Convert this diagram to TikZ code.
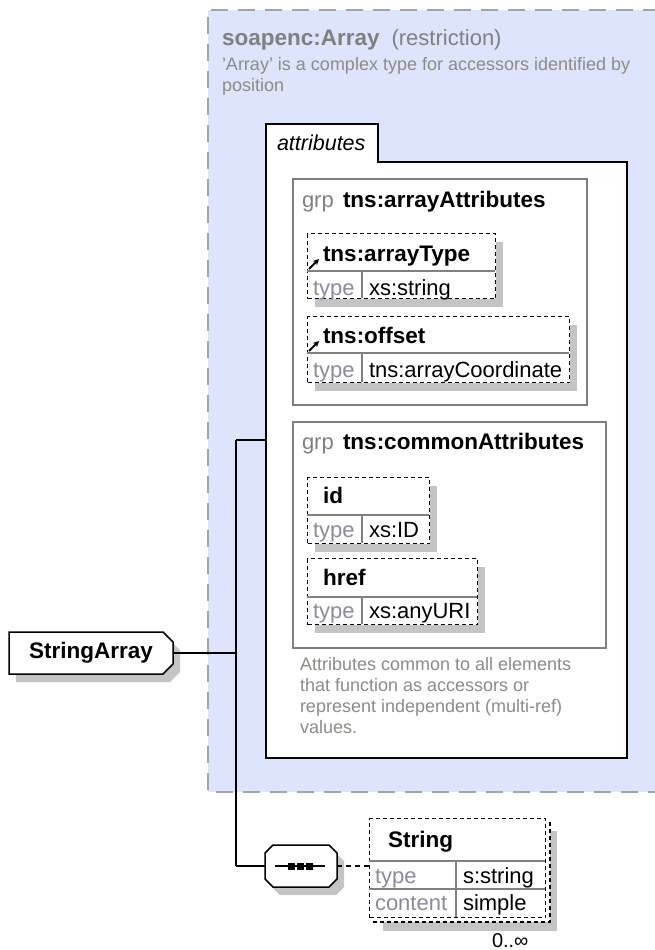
\documentclass[tikz,border=0pt]{standalone}
\usepackage{fontspec}
\setmainfont{Liberation Sans}
\usetikzlibrary{shadows,arrows.meta}
\definecolor{cblue}{HTML}{DDE4FC}
\definecolor{cgrey}{HTML}{808080}
\definecolor{cnote}{HTML}{8E8A86}
\definecolor{clabel}{HTML}{8A8AA0}
\definecolor{cshadow}{HTML}{C4C4C4}
\definecolor{cdash}{HTML}{A4A4A4}
\newcommand\myfs{\fontsize{18}{21}\selectfont}
\newcommand\myfm{\fontsize{22}{26}\selectfont}
\newcommand\myfb{\fontsize{22.5}{26}\selectfont\bfseries}
\tikzset{
  txt/.style={inner sep=0pt, outer sep=0pt, anchor=base west},
  conn/.style={black, line width=1.5pt},
  grpbox/.style={draw=cgrey, line width=1.5pt, inner sep=0pt, anchor=north west},
  abox/.style={draw=black, line width=1.3pt, dash pattern=on 4pt off 3pt, fill=white,
    inner sep=0pt, anchor=north west,
    drop shadow={shadow xshift=7pt, shadow yshift=-8pt, fill=cshadow, opacity=1}},
  sepline/.style={draw=cgrey, line width=1.2pt},
  lbl/.style={txt, text=clabel, font=\myfm},
  val/.style={txt, text=black, font=\myfm},
  hdr/.style={txt, text=black, font=\myfb},
  arrowicon/.style={line width=1.8pt, -{Stealth[length=6pt,width=6pt]}},
}
\begin{document}
\begin{tikzpicture}[x=1pt,y=-1pt]
\useasboundingbox (0,0) rectangle (654,950);
\fill[white] (0,0) rectangle (654,950);

% restriction container
\node[fill=cblue, inner sep=0pt, minimum width=452pt, minimum height=782pt, anchor=north west] (restr) at (208,10) {};
\draw[cdash, line width=2pt, dash pattern=on 17pt off 10pt] (660,10) -- (208,10) -- (208,792) -- (660,792);
\node[txt, text=cgrey] (ttl) at (222,46) {\myfb soapenc:Array\hspace{12pt}\myfm\mdseries(restriction)};
\node[txt, text=cnote, align=left, font=\myfs] (desc) at (222,92) {'Array' is a complex type for accessors identified by\\position};

% attributes box
\draw[black, line width=2pt, fill=white] (266,124) -- (378,124) -- (378,162) -- (627,162) -- (627,758) -- (266,758) -- cycle;
\node[inner sep=0pt, minimum width=361pt, minimum height=596pt, anchor=north west] (attrs) at (266,162) {};
\node[txt, font=\fontsize{21.5}{25}\selectfont\itshape] (attrlbl) at (277,150) {attributes};

% group 1
\node[grpbox, minimum width=294pt, minimum height=226pt] (g1) at (292,178) {};
\node[txt, text=cgrey, font=\myfm] (g1a) at (302,207) {grp};
\node[hdr] (g1b) at (343,207) {tns:arrayAttributes};

% arrayType
\node[abox, minimum width=188pt, minimum height=65pt] (at) at (307,233) {};
\draw[sepline] (307,271) -- (495,271);
\draw[sepline] (362,271) -- (362,298);
\draw[arrowicon] (309,269) -- (319,259);
\node[hdr] (ath) at (323,261) {tns:arrayType};
\node[lbl] (atl) at (313,295) {type};
\node[val] (atv) at (369,295) {xs:string};

% offset
\node[abox, minimum width=262pt, minimum height=66pt] (of) at (307,316) {};
\draw[sepline] (307,353) -- (569,353);
\draw[sepline] (362,353) -- (362,382);
\draw[arrowicon] (309,351) -- (319,341);
\node[hdr] (ofh) at (323,343) {tns:offset};
\node[lbl] (ofl) at (313,377) {type};
\node[val] (ofv) at (369,377) {tns:arrayCoordinate};

% group 2
\node[grpbox, minimum width=313pt, minimum height=226pt] (g2) at (292,421) {};
\node[txt, text=cgrey, font=\myfm] (g2a) at (302,449) {grp};
\node[hdr] (g2b) at (343,449) {tns:commonAttributes};

% id
\node[abox, minimum width=122pt, minimum height=66pt] (idb) at (307,477) {};
\draw[sepline] (307,515) -- (429,515);
\draw[sepline] (362,515) -- (362,543);
\node[hdr] (idh) at (323,503) {id};
\node[lbl] (idl) at (313,537) {type};
\node[val] (idv) at (369,537) {xs:ID};

% href
\node[abox, minimum width=170pt, minimum height=66pt] (hr) at (307,558) {};
\draw[sepline] (307,597) -- (477,597);
\draw[sepline] (362,597) -- (362,624);
\node[hdr] (hrh) at (323,585) {href};
\node[lbl] (hrl) at (313,618) {type};
\node[val] (hrv) at (369,618) {xs:anyURI};

\node[txt, text=cnote, align=left, font=\myfs] (note) at (300,733)
  {Attributes common to all elements\\that function as accessors or\\represent independent (multi-ref)\\values.};

% StringArray
\fill[cshadow] (16,640) -- (170,640) -- (180,650) -- (180,672) -- (170,682) -- (16,682) -- cycle;
\draw[black, line width=1.5pt, fill=white] (9,632) -- (163,632) -- (173,642) -- (173,664) -- (163,674) -- (9,674) -- cycle;
\node[inner sep=0pt, minimum width=164pt, minimum height=42pt, font=\myfb] (sa) at (91,653) {StringArray};

% sequence compositor
\fill[cshadow] (280,853) -- (336,853) -- (344,861) -- (344,887) -- (336,895) -- (280,895) -- (272,887) -- (272,861) -- cycle;
\draw[black, line width=1.5pt, fill=white] (273,845) -- (329,845) -- (337,853) -- (337,879) -- (329,887) -- (273,887) -- (265,879) -- (265,853) -- cycle;
\node[inner sep=0pt, minimum width=72pt, minimum height=42pt] (seq) at (301,866) {};
\draw[black, line width=1.5pt] (275,866) -- (325,866);
\foreach \cx in {291,300,309} \fill[black] (\cx-3.5,862.5) rectangle (\cx+3.5,869.5);

% String element
\fill[cshadow] (383,831) rectangle (557,931);
\draw[black, line width=1.3pt, dash pattern=on 4pt off 3pt, fill=white] (374,823) rectangle (550,922);
\node[draw=black, line width=1.3pt, dash pattern=on 4pt off 3pt, fill=white, inner sep=0pt,
      minimum width=176pt, minimum height=99pt, anchor=north west] (str) at (369,818) {};
\draw[sepline] (369,861) -- (545,861);
\draw[sepline] (369,889) -- (545,889);
\draw[sepline] (456,861) -- (456,917);
\node[hdr] (strh) at (388,847) {String};
\node[lbl] (strl1) at (375,883) {type};
\node[val] (strv1) at (463,883) {s:string};
\node[lbl] (strl2) at (375,910) {content};
\node[val] (strv2) at (463,910) {simple};
\node[txt, font=\fontsize{20}{24}\selectfont] (occ) at (492,947) {0..∞};

% connectors
\coordinate (jtop) at (236,440);
\coordinate (jbot) at (236,866);
\draw[conn] (jtop) -- (jbot);
\draw[conn] (sa.east) -- (sa.east -| jtop);
\draw[conn] (jtop) -- (jtop -| attrs.west);
\draw[conn] (jbot) -- (seq.west);
\draw[black, line width=1.2pt, dash pattern=on 5pt off 4pt] (seq.east) -- (seq.east -| str.west);
\end{tikzpicture}
\end{document}
